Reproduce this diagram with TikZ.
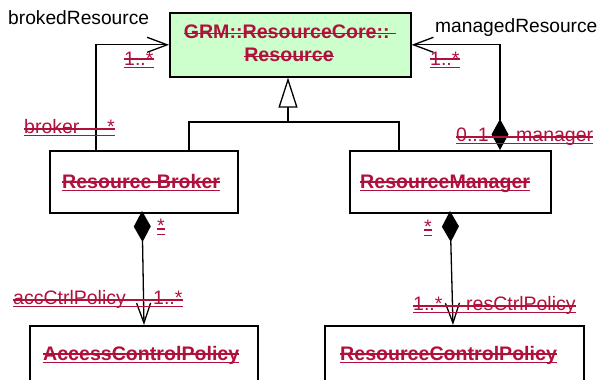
\documentclass[tikz,border=0pt]{standalone}
\usepackage{fontspec}
\setmainfont{Liberation Sans}
\usetikzlibrary{arrows.meta}
\definecolor{umlred}{HTML}{B0103C}
\definecolor{umlgreen}{HTML}{CCFFCC}
\tikzset{
  cls/.style={draw=black, line width=1.6pt, inner sep=0pt, anchor=north west},
  ttl/.style={text=umlred, font=\bfseries\fontsize{19.6}{22}\selectfont, inner sep=0pt, anchor=base west},
  lab/.style={text=umlred, font=\fontsize{19.5}{22}\selectfont, inner sep=0pt, anchor=base west},
  rolename/.style={text=black, font=\fontsize{19.2}{22}\selectfont, inner sep=0pt, anchor=base west},
  redline/.style={draw=umlred, line width=1.6pt},
  conn/.style={draw=black, line width=1.3pt},
  assoc/.style={conn, -{Straight Barb[length=20pt,width=15pt,line width=1.3pt]}},
  compo/.style={conn, {Diamond[length=31pt,width=17pt,fill=black]}-{Straight Barb[length=20pt,width=14pt,line width=1.3pt]}},
  gener/.style={conn, -{Triangle[open,length=30pt,width=19pt,fill=white,line width=1.3pt]}},
}
% underline + strike-through from node #2 to node #3 (#1 = strike height)
\newcommand\ulst[3][4pt]{%
  \draw[redline] ([yshift=-2.5pt]#2.base west) -- ([yshift=-2.5pt]#3.base east);
  \draw[redline, line width=1.3pt] ([yshift=#1]#2.base west) -- ([yshift=#1]#3.base east);}
\newcommand\stonly[2][4.5pt]{%
  \draw[redline, line width=1.3pt] ([yshift=#1]#2.base west) -- ([yshift=#1]#2.base east);}
\begin{document}
\begin{tikzpicture}[x=1pt,y=-1pt]
\clip (0,0) rectangle (597,380);
\useasboundingbox (0,0) rectangle (597,380);

% class boxes
\node[cls, fill=umlgreen, minimum width=241pt, minimum height=64pt] (core) at (169,12) {};
\node[cls, minimum width=188pt, minimum height=62pt] (broker) at (49,150) {};
\node[cls, minimum width=201pt, minimum height=62pt] (mgr) at (349,150) {};
\node[cls, minimum width=228pt, minimum height=90pt] (acc) at (29,325) {};
\node[cls, minimum width=259pt, minimum height=90pt] (res) at (324,325) {};

% class names
\node[ttl, anchor=base] (core1) at (290,38) {GRM::ResourceCore::\,\,};
\node[ttl, anchor=base] (core2) at (289,61) {Resource};
\stonly{core1}
\stonly{core2}
\node[ttl] (bkname) at (62,188) {Resource Broker};
\ulst[6pt]{bkname}{bkname}
\node[ttl] (mgname) at (360,188) {ResourceManager};
\ulst[6pt]{mgname}{mgname}
\node[ttl] (accname) at (43,360) {AccessControlPolicy};
\ulst[6pt]{accname}{accname}
\node[ttl] (resname) at (340,360) {ResourceControlPolicy};
\ulst[6pt]{resname}{resname}

% generalization
\coordinate (jn) at (288,122);
\coordinate (bkg) at (189,150);
\coordinate (mgg) at (399,150);
\draw[conn] (bkg) |- (mgg |- jn) -- (mgg);
\draw[gener] (jn) -- (core.south -| jn);

% associations to Resource
\coordinate (bka) at (96,150);
\draw[assoc] (bka) |- (core.west);
\coordinate (mga) at (500,150);
\draw[conn, {Diamond[length=31pt,width=17pt,fill=black]}-{Straight Barb[length=20pt,width=15pt,line width=1.3pt]}] (mga) |- (core.east);

% compositions
\coordinate (bkc) at (142,211);
\coordinate (accn) at (144,325);
\draw[compo] (bkc) -- (accn);
\coordinate (mgc) at (450,211);
\coordinate (resn) at (453,325);
\draw[compo] (mgc) -- (resn);

% role names
\node[rolename] (brokedres) at (8,24) {brokedResource};
\node[rolename] (managedres) at (435,32) {managedResource};

% multiplicities / roles (red)
\node[lab] (m1) at (124,65) {1..*};
\ulst[6pt]{m1}{m1}
\node[lab] (m2) at (430,65) {1..*};
\ulst[6pt]{m2}{m2}
\node[lab] (brk) at (24,133) {broker};
\node[lab] (brkm) at (107,133) {*};
\ulst{brk}{brkm}
\node[lab] (m3) at (456,141) {0..1};
\node[lab] (mgrole) at (516,141) {manager};
\ulst{m3}{mgrole}
\node[lab] (m4) at (157,232) {*};
\ulst[3pt]{m4}{m4}
\node[lab] (m5) at (424,233) {*};
\ulst[3pt]{m5}{m5}
\node[lab] (accrole) at (13,304) {accCtrlPolicy};
\node[lab] (m6) at (153,304) {1..*};
\ulst{accrole}{m6}
\node[lab] (m7) at (413,310) {1..*};
\node[lab] (resrole) at (466,310) {resCtrlPolicy};
\ulst{m7}{resrole}
\end{tikzpicture}
\end{document}
